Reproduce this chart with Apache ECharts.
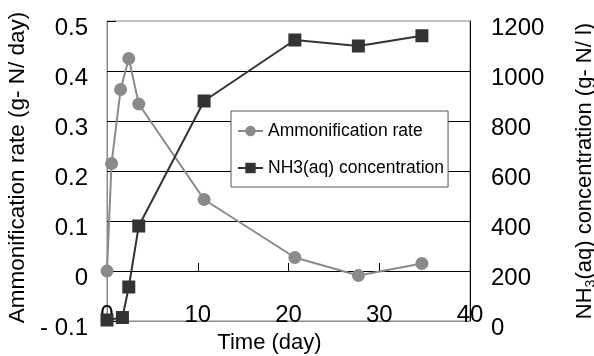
<!DOCTYPE html>
<html>
<head>
<meta charset="utf-8">
<script src="https://cdn.jsdelivr.net/npm/echarts@6/dist/echarts.min.js"></script>
<style>
  html, body { margin: 0; padding: 0; background: #fff; }
  #chart { width: 594px; height: 356px; }
</style>
</head>
<body>
<div id="chart"></div>
<script>
// values
const rateDays = [0, 0.5, 1.5, 2.4, 3.5, 10.7, 20.7, 27.7, 34.7];
const rateValues = [0, 0.215, 0.363, 0.425, 0.334, 0.143, 0.027, -0.009, 0.015];
const nh3Days = [0, 1.7, 2.4, 3.5, 10.7, 20.7, 27.7, 34.7];
const nh3Values = [4, 14, 136, 380, 880, 1124, 1100, 1141];
const seriesNames = ['Ammonification rate', 'NH3(aq) concentration'];

const font = 'Liberation Sans, Arial, sans-serif';
const chart = echarts.init(document.getElementById('chart'));

// tick labels sit a little below their gridlines in the original
const lowLabel = { v: { fontSize: 24, color: '#000', padding: [14, 0, 0, 0] } };

const option = {
  animation: false,
  backgroundColor: '#fff',
  textStyle: { fontFamily: font },
  grid: {
    left: 107, right: 124, top: 21, bottom: 35,
    outerBoundsMode: 'none',
    containLabel: false,
    show: true,
    borderColor: '#8a8a8a',
    borderWidth: 1
  },
  legend: {
    orient: 'vertical',
    left: 231, top: 111,
    padding: [11, 4, 10, 6],
    itemGap: 19,
    itemWidth: 25,
    itemHeight: 13,
    backgroundColor: '#fff',
    borderColor: '#555',
    borderWidth: 1,
    borderRadius: 0,
    textStyle: { fontSize: 17.5, color: '#000', fontFamily: font },
    data: seriesNames
  },
  xAxis: [
    {
      type: 'value', min: 0, max: 40, interval: 10,
      position: 'bottom',
      axisLine: { onZero: false, lineStyle: { color: '#8a8a8a', width: 1 } },
      axisTick: { show: false },
      splitLine: { show: false },
      axisLabel: { fontSize: 24, color: '#000', margin: -6, verticalAlign: 'middle' },
      name: 'Time (day)',
      nameLocation: 'middle',
      nameGap: 10,
      nameTextStyle: { fontSize: 22, color: '#000', padding: [0, 38, 0, 0] }
    },
    {
      // tick marks sitting on the zero line
      type: 'value', min: 0, max: 40, interval: 10,
      position: 'bottom',
      axisLine: { onZero: true, lineStyle: { color: '#000', width: 1 } },
      axisTick: { show: true, inside: true, length: 8, lineStyle: { color: '#000' } },
      axisLabel: { show: false },
      splitLine: { show: false }
    }
  ],
  yAxis: [
    {
      type: 'value', min: -0.1, max: 0.5, interval: 0.1,
      position: 'left',
      axisLine: { show: true, onZero: false, lineStyle: { color: '#8a8a8a' } },
      axisTick: { show: true, inside: true, length: 9, lineStyle: { color: '#000' } },
      splitLine: { show: true, showMinLine: false, showMaxLine: false, lineStyle: { color: '#000', width: 1 } },
      axisLabel: {
        margin: 19,
        formatter: v => '{v|' + (v < 0 ? '- ' + Math.abs(v) : String(v)) + '}',
        rich: lowLabel
      },
      name: 'Ammonification rate (g- N/ day)',
      nameLocation: 'middle',
      nameRotate: 90,
      nameGap: 68,
      nameTextStyle: { fontSize: 22.5, color: '#000', padding: [0, 0, 0, 7] }
    },
    {
      type: 'value', min: 0, max: 1200, interval: 200,
      position: 'right',
      axisLine: { show: true, onZero: false, lineStyle: { color: '#000' } },
      axisTick: { show: false },
      splitLine: { show: false },
      axisLabel: {
        margin: 21,
        formatter: v => '{v|' + v + '}',
        rich: lowLabel
      },
      name: 'NH{s|3}(aq) concentration (g- N/ l)',
      nameLocation: 'middle',
      nameRotate: 90,
      nameGap: 101,
      nameTextStyle: {
        fontSize: 22, color: '#000',
        rich: { s: { fontSize: 14, lineHeight: 27, verticalAlign: 'bottom', color: '#000' } }
      }
    }
  ],
  series: [
    {
      name: seriesNames[0],
      type: 'line',
      xAxisIndex: 0, yAxisIndex: 0,
      data: rateDays.map((d, i) => [d, rateValues[i]]),
      symbol: 'circle',
      symbolSize: 13,
      lineStyle: { color: '#8a8a8a', width: 2 },
      itemStyle: { color: '#8a8a8a' },
      z: 3
    },
    {
      name: seriesNames[1],
      type: 'line',
      xAxisIndex: 0, yAxisIndex: 1,
      data: nh3Days.map((d, i) => [d, nh3Values[i]]),
      symbol: 'rect',
      symbolSize: 13,
      lineStyle: { color: '#333', width: 2 },
      itemStyle: { color: '#333' },
      z: 4
    }
  ]
};

chart.setOption(option);
</script>
</body>
</html>
